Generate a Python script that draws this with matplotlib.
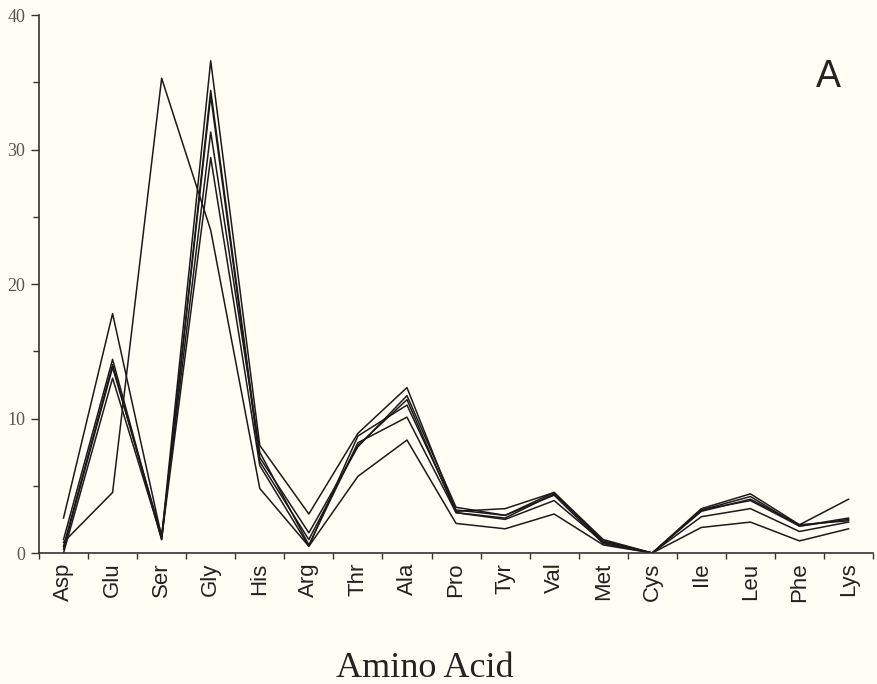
import matplotlib.pyplot as plt
import numpy as np

# amino acid composition, one line per sample (mol %)
aminos = ['Asp', 'Glu', 'Ser', 'Gly', 'His', 'Arg', 'Thr', 'Ala', 'Pro',
          'Tyr', 'Val', 'Met', 'Cys', 'Ile', 'Leu', 'Phe', 'Lys']

s1 = [0.8, 4.5, 35.3, 24.0, 4.8, 0.5, 5.7, 8.4, 2.2, 1.8, 2.9, 0.6, 0, 1.9, 2.3, 0.9, 1.8]
s2 = [2.6, 17.8, 1.2, 36.6, 8.0, 2.9, 8.9, 12.3, 3.1, 3.3, 4.5, 1.0, 0, 3.3, 4.4, 2.1, 4.0]
s3 = [1.0, 14.4, 1.0, 34.4, 7.1, 1.5, 7.9, 11.7, 3.4, 2.8, 4.5, 0.8, 0, 3.2, 4.2, 2.0, 2.5]
s4 = [0.5, 14.0, 1.0, 34.0, 6.8, 1.0, 8.0, 11.4, 3.0, 2.5, 3.9, 0.8, 0, 3.2, 3.9, 2.0, 2.6]
s5 = [0.3, 13.8, 1.3, 31.3, 7.5, 0.6, 8.2, 10.1, 3.0, 2.6, 4.4, 0.9, 0, 2.7, 3.3, 1.6, 2.3]
s6 = [0.0, 13.0, 1.1, 29.4, 6.5, 0.5, 8.7, 11.0, 3.2, 2.8, 4.3, 0.7, 0, 3.1, 4.0, 2.1, 2.4]
samples = [s1, s2, s3, s4, s5, s6]

bg = '#fffdf4'
fig = plt.figure(figsize=(8.78, 6.84), dpi=100, facecolor=bg)
ax = fig.add_axes([0.0444, 0.1915, 0.9500, 0.7865], facecolor=bg)

x = np.arange(len(aminos))
for s in samples:
    ax.plot(x, s, color='#1a1a1a', lw=1.1)

ax.set_xlim(-0.5, len(aminos) - 0.5)
ax.set_ylim(0, 40)

# labels at the category centres, tick marks on the boundaries
ax.set_xticks(x)
ax.set_xticklabels(aminos, rotation=90, family='Liberation Sans', fontsize=16, color='#222222')
ax.set_xticks(np.arange(-0.5, len(aminos) + 0.5, 1), minor=True)
ax.tick_params(axis='x', which='major', length=0, pad=7)
ax.tick_params(axis='x', which='minor', length=4, width=1, direction='out', color='#333333')

ax.set_yticks([0, 10, 20, 30, 40])
ax.set_yticks([5, 15, 25, 35], minor=True)
ax.set_yticklabels(['0', '10', '20', '30', '40'], family='Liberation Serif', fontsize=13, color='#555555')
ax.tick_params(axis='y', which='major', length=6, width=1, pad=4, color='#333333')
ax.tick_params(axis='y', which='minor', length=4, width=1, color='#333333')

for side in ['top', 'right']:
    ax.spines[side].set_visible(False)
for side in ['left', 'bottom']:
    ax.spines[side].set_color('#333333')
    ax.spines[side].set_linewidth(1.2)

fig.text(0.484, 0.0102, 'Amino Acid', family='Liberation Serif', fontsize=26,
         ha='center', va='baseline', color='#222222')
ax.text(0.947, 0.885, 'A', transform=ax.transAxes, family='Liberation Sans',
        fontsize=27, ha='center', va='center', color='#222222')

fig.savefig('out.png', dpi=100, facecolor=bg)
